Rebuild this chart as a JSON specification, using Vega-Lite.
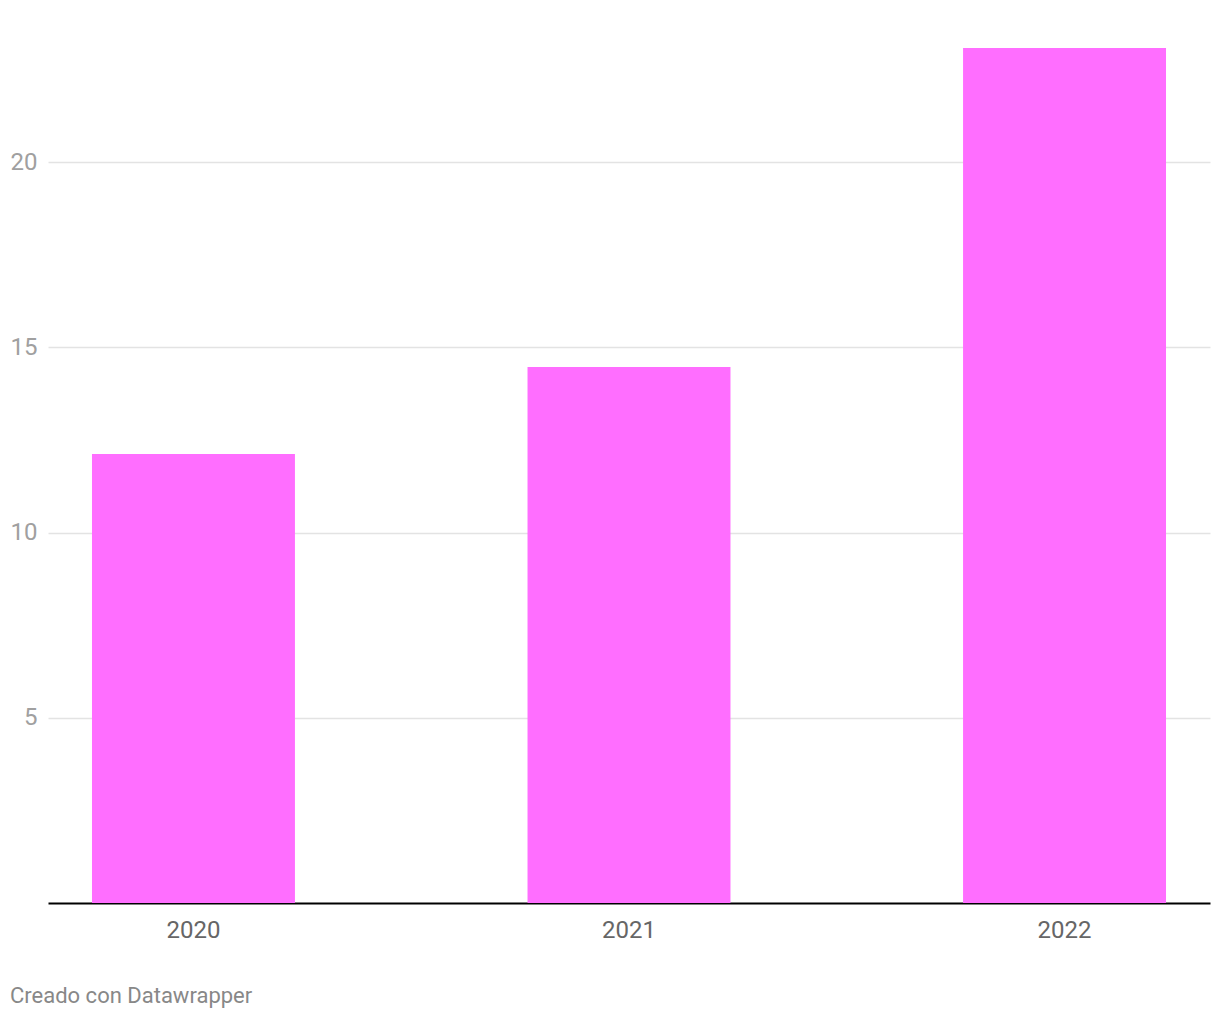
{
  "$schema": "https://vega.github.io/schema/vega-lite/v6.json",
  "autosize": {"type": "none"},
  "width": 1162,
  "height": 889,
  "padding": {"left": 48, "top": 14, "right": 10, "bottom": 117},
  "background": "white",
  "config": {
    "view": {"stroke": null},
    "font": "Roboto"
  },
  "title": {
    "text": "Creado con Datawrapper",
    "orient": "bottom",
    "anchor": "start",
    "frame": "group",
    "dx": -38,
    "offset": 44,
    "fontSize": 22,
    "fontWeight": "normal",
    "color": "#888888",
    "font": "Roboto"
  },
  "data": {
    "values": [
      {"year": "2020", "value": 12.12},
      {"year": "2021", "value": 14.47},
      {"year": "2022", "value": 23.08}
    ]
  },
  "mark": {"type": "bar", "color": "#ff6eff"},
  "encoding": {
    "x": {
      "field": "year",
      "type": "nominal",
      "sort": null,
      "scale": {"paddingInner": 0.534, "paddingOuter": 0.101},
      "axis": {
        "title": null,
        "labelAngle": 0,
        "labelFontSize": 24,
        "labelColor": "#666666",
        "labelPadding": 15,
        "ticks": false,
        "domainColor": "#000000",
        "domainWidth": 2,
        "grid": false
      }
    },
    "y": {
      "field": "value",
      "type": "quantitative",
      "scale": {"domain": [0, 24], "nice": false},
      "axis": {
        "title": null,
        "values": [5, 10, 15, 20],
        "labelFontSize": 24,
        "labelColor": "#a0a0a0",
        "labelPadding": 11,
        "ticks": false,
        "domain": false,
        "grid": true,
        "gridColor": "#e3e3e3",
        "gridWidth": 1.5
      }
    }
  }
}
